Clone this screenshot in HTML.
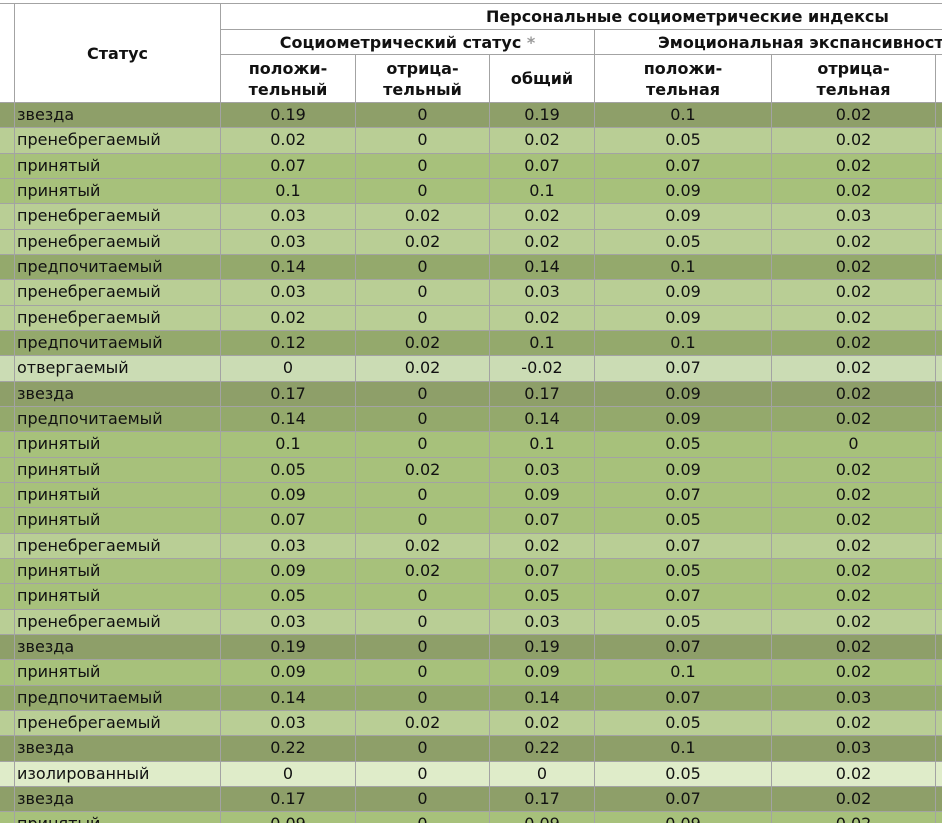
<!DOCTYPE html>
<html><head><meta charset="utf-8"><style>
html,body{margin:0;padding:0;background:#fff;width:942px;height:823px;overflow:hidden;position:relative}
table{position:absolute;left:-10px;top:3px;width:1145px;border-collapse:collapse;table-layout:fixed;font-family:"DejaVu Sans","Liberation Sans",sans-serif;font-size:16px;color:#111}
td,th{border:1px solid #a3a3a3;padding:0;text-align:center;white-space:nowrap;overflow:hidden}
th{background:#fff;font-weight:bold;line-height:21px}
td{height:24.33px;line-height:22px}
td.l{text-align:left;padding-left:2px}
tr.z td{background:#8e9f69}
tr.pr td{background:#94a96c}
tr.a td{background:#a7c17b}
tr.n td{background:#b9ce95}
tr.o td{background:#cbdcb4}
tr.i td{background:#dfecc9}
.ast{color:#999}
</style></head><body>
<table>
<colgroup><col style="width:24px"><col style="width:206px"><col style="width:135px"><col style="width:134px"><col style="width:105px"><col style="width:177px"><col style="width:164px"><col style="width:200px"></colgroup>
<tr style="height:26px"><th rowspan="3"></th><th rowspan="3">Статус</th><th colspan="6" style="text-align:left;padding-left:265px">Персональные социометрические индексы</th></tr>
<tr style="height:25px"><th colspan="3">Социометрический статус <span class="ast">*</span></th><th colspan="3" style="text-align:left;padding-left:63px">Эмоциональная экспансивность</th></tr>
<tr style="height:48px"><th>положи-<br>тельный</th><th>отрица-<br>тельный</th><th>общий</th><th>положи-<br>тельная</th><th>отрица-<br>тельная</th><th></th></tr>
<tr class="z"><td></td><td class="l">звезда</td><td>0.19</td><td>0</td><td>0.19</td><td>0.1</td><td>0.02</td><td></td></tr>
<tr class="n"><td></td><td class="l">пренебрегаемый</td><td>0.02</td><td>0</td><td>0.02</td><td>0.05</td><td>0.02</td><td></td></tr>
<tr class="a"><td></td><td class="l">принятый</td><td>0.07</td><td>0</td><td>0.07</td><td>0.07</td><td>0.02</td><td></td></tr>
<tr class="a"><td></td><td class="l">принятый</td><td>0.1</td><td>0</td><td>0.1</td><td>0.09</td><td>0.02</td><td></td></tr>
<tr class="n"><td></td><td class="l">пренебрегаемый</td><td>0.03</td><td>0.02</td><td>0.02</td><td>0.09</td><td>0.03</td><td></td></tr>
<tr class="n"><td></td><td class="l">пренебрегаемый</td><td>0.03</td><td>0.02</td><td>0.02</td><td>0.05</td><td>0.02</td><td></td></tr>
<tr class="pr"><td></td><td class="l">предпочитаемый</td><td>0.14</td><td>0</td><td>0.14</td><td>0.1</td><td>0.02</td><td></td></tr>
<tr class="n"><td></td><td class="l">пренебрегаемый</td><td>0.03</td><td>0</td><td>0.03</td><td>0.09</td><td>0.02</td><td></td></tr>
<tr class="n"><td></td><td class="l">пренебрегаемый</td><td>0.02</td><td>0</td><td>0.02</td><td>0.09</td><td>0.02</td><td></td></tr>
<tr class="pr"><td></td><td class="l">предпочитаемый</td><td>0.12</td><td>0.02</td><td>0.1</td><td>0.1</td><td>0.02</td><td></td></tr>
<tr class="o"><td></td><td class="l">отвергаемый</td><td>0</td><td>0.02</td><td>-0.02</td><td>0.07</td><td>0.02</td><td></td></tr>
<tr class="z"><td></td><td class="l">звезда</td><td>0.17</td><td>0</td><td>0.17</td><td>0.09</td><td>0.02</td><td></td></tr>
<tr class="pr"><td></td><td class="l">предпочитаемый</td><td>0.14</td><td>0</td><td>0.14</td><td>0.09</td><td>0.02</td><td></td></tr>
<tr class="a"><td></td><td class="l">принятый</td><td>0.1</td><td>0</td><td>0.1</td><td>0.05</td><td>0</td><td></td></tr>
<tr class="a"><td></td><td class="l">принятый</td><td>0.05</td><td>0.02</td><td>0.03</td><td>0.09</td><td>0.02</td><td></td></tr>
<tr class="a"><td></td><td class="l">принятый</td><td>0.09</td><td>0</td><td>0.09</td><td>0.07</td><td>0.02</td><td></td></tr>
<tr class="a"><td></td><td class="l">принятый</td><td>0.07</td><td>0</td><td>0.07</td><td>0.05</td><td>0.02</td><td></td></tr>
<tr class="n"><td></td><td class="l">пренебрегаемый</td><td>0.03</td><td>0.02</td><td>0.02</td><td>0.07</td><td>0.02</td><td></td></tr>
<tr class="a"><td></td><td class="l">принятый</td><td>0.09</td><td>0.02</td><td>0.07</td><td>0.05</td><td>0.02</td><td></td></tr>
<tr class="a"><td></td><td class="l">принятый</td><td>0.05</td><td>0</td><td>0.05</td><td>0.07</td><td>0.02</td><td></td></tr>
<tr class="n"><td></td><td class="l">пренебрегаемый</td><td>0.03</td><td>0</td><td>0.03</td><td>0.05</td><td>0.02</td><td></td></tr>
<tr class="z"><td></td><td class="l">звезда</td><td>0.19</td><td>0</td><td>0.19</td><td>0.07</td><td>0.02</td><td></td></tr>
<tr class="a"><td></td><td class="l">принятый</td><td>0.09</td><td>0</td><td>0.09</td><td>0.1</td><td>0.02</td><td></td></tr>
<tr class="pr"><td></td><td class="l">предпочитаемый</td><td>0.14</td><td>0</td><td>0.14</td><td>0.07</td><td>0.03</td><td></td></tr>
<tr class="n"><td></td><td class="l">пренебрегаемый</td><td>0.03</td><td>0.02</td><td>0.02</td><td>0.05</td><td>0.02</td><td></td></tr>
<tr class="z"><td></td><td class="l">звезда</td><td>0.22</td><td>0</td><td>0.22</td><td>0.1</td><td>0.03</td><td></td></tr>
<tr class="i"><td></td><td class="l">изолированный</td><td>0</td><td>0</td><td>0</td><td>0.05</td><td>0.02</td><td></td></tr>
<tr class="z"><td></td><td class="l">звезда</td><td>0.17</td><td>0</td><td>0.17</td><td>0.07</td><td>0.02</td><td></td></tr>
<tr class="a"><td></td><td class="l">принятый</td><td>0.09</td><td>0</td><td>0.09</td><td>0.09</td><td>0.02</td><td></td></tr>
</table>
</body></html>
